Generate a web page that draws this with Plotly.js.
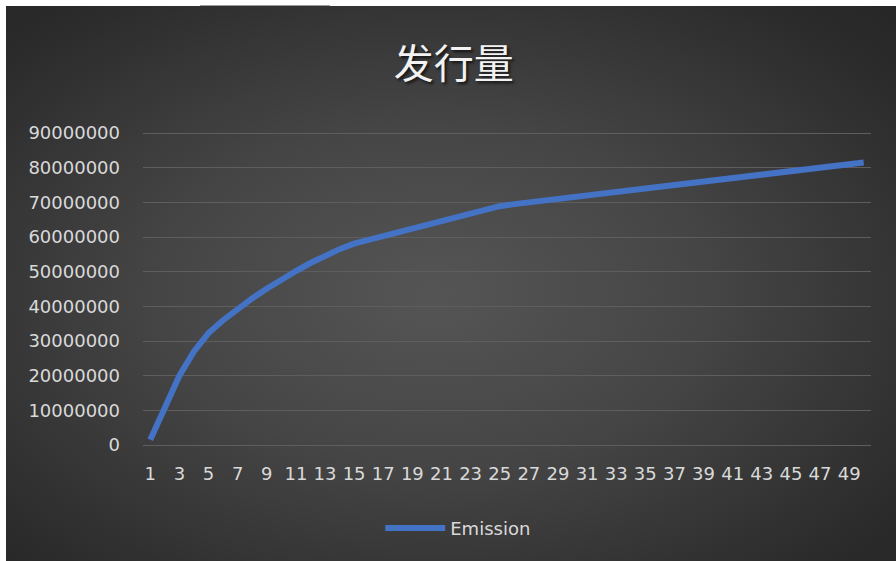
<!DOCTYPE html>
<html>
<head>
<meta charset="utf-8">
<script src="https://cdn.plot.ly/plotly-3.0.1.min.js"></script>
<style>
  html, body { margin: 0; padding: 0; background: #ffffff; width: 896px; height: 561px; overflow: hidden; }
  #chart {
    position: absolute; left: 6px; top: 6px; width: 890px; height: 555px;
    background: radial-gradient(ellipse farthest-corner at 48% 52%, #555555 0%, #464646 40%, #2c2c2c 85%, #262626 100%);
  }
  #topline { position: absolute; left: 200px; top: 5px; width: 130px; height: 1px; background: #9a9a9a; }
</style>
</head>
<body>
<div id="topline"></div>
<div id="chart"></div>
<script>
// Data
const categories = ["1","2","3","4","5","6","7","8","9","10","11","12","13","14","15","16","17","18","19","20",
  "21","22","23","24","25","26","27","28","29","30","31","32","33","34","35","36","37","38","39","40",
  "41","42","43","44","45","46","47","48","49","50"];
const emission = [
  1500000, 11000000, 20000000, 27000000, 32300000, 36000000, 39300000, 42300000, 45100000, 47800000,
  50200000, 52500000, 54600000, 56500000, 58100000, 59200000, 60300000, 61400000, 62500000, 63600000,
  64700000, 65800000, 66800000, 67900000, 68900000, 69500000, 70000000, 70600000, 71100000, 71600000,
  72200000, 72700000, 73200000, 73700000, 74200000, 74700000, 75200000, 75700000, 76200000, 76700000,
  77200000, 77700000, 78200000, 78600000, 79100000, 79600000, 80100000, 80600000, 81000000, 81500000
];
const xTickLabels = ["1","3","5","7","9","11","13","15","17","19","21","23","25","27","29","31","33","35","37","39","41","43","45","47","49"];
const yTickVals = [0, 10000000, 20000000, 30000000, 40000000, 50000000, 60000000, 70000000, 80000000, 90000000];
const yTickText = ["0","10000000","20000000","30000000","40000000","50000000","60000000","70000000","80000000","90000000"];
const seriesName = "Emission";
const chartTitle = "发行量";

const tickFont = { family: "DejaVu Sans, Noto Sans, sans-serif", size: 18, color: "#d9d9d9" };

const trace = {
  type: "scatter",
  mode: "lines",
  x: categories,
  y: emission,
  name: seriesName,
  line: { color: "#4472C4", width: 6, shape: "linear" },
  hoverinfo: "x+y"
};

const layout = {
  width: 890,
  height: 555,
  paper_bgcolor: "rgba(0,0,0,0)",
  plot_bgcolor: "rgba(0,0,0,0)",
  margin: { l: 137, r: 25, t: 126, b: 116, pad: 0 },
  title: {
    text: chartTitle,
    font: { family: "Noto Sans CJK SC, sans-serif", size: 40, color: "#f2f2f2", shadow: "2px 2px 3px rgba(0,0,0,0.7)" },
    xref: "container", x: 0.503, xanchor: "center",
    yref: "container", y: 0.895, yanchor: "middle"
  },
  xaxis: {
    type: "category",
    categoryorder: "array",
    categoryarray: categories,
    range: [-0.5, 49.5],
    tickmode: "array",
    tickvals: xTickLabels,
    ticktext: xTickLabels,
    tickangle: 0,
    tickfont: tickFont,
    ticks: "",
    ticklabelstandoff: 16,
    showgrid: false,
    zeroline: false,
    showline: false
  },
  yaxis: {
    range: [0, 90300000],
    tickmode: "array",
    tickvals: yTickVals,
    ticktext: yTickText,
    tickfont: tickFont,
    ticks: "",
    ticklabelstandoff: 22,
    showgrid: true,
    gridcolor: "#5e5e5e",
    gridwidth: 1,
    zeroline: true,
    zerolinecolor: "#5e5e5e",
    zerolinewidth: 1,
    showline: false
  },
  showlegend: true,
  legend: {
    orientation: "h",
    x: 0.433, xanchor: "center",
    y: -0.266, yanchor: "middle",
    font: { family: "DejaVu Sans, Noto Sans, sans-serif", size: 18, color: "#d9d9d9" },
    bgcolor: "rgba(0,0,0,0)",
    itemwidth: 60
  }
};

Plotly.newPlot("chart", [trace], layout, { displayModeBar: false, staticPlot: true });
</script>
</body>
</html>
